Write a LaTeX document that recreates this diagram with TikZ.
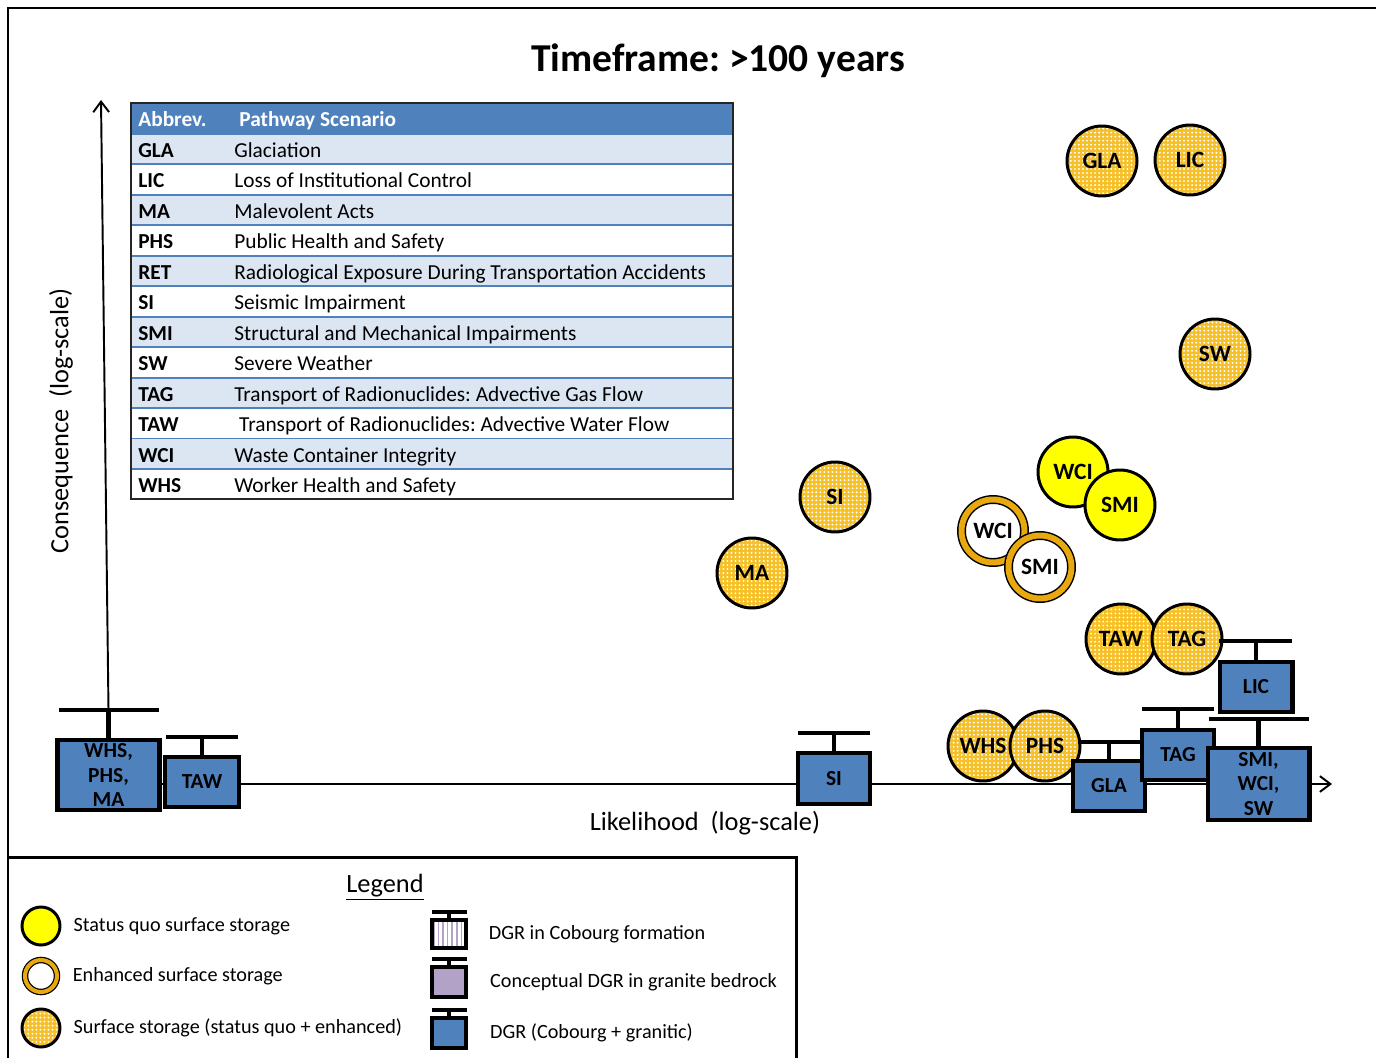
\documentclass[tikz,border=0pt]{standalone}
\usepackage{fontspec}
\setmainfont{Carlito}
\frenchspacing
\usetikzlibrary{positioning,arrows.meta,patterns.meta}

% Colours of the slide
\definecolor{dgrblue}{RGB}{79,129,189}
\definecolor{rowshade}{RGB}{220,230,242}
\definecolor{sqyellow}{RGB}{255,255,0}
\definecolor{mixgold}{RGB}{246,192,40}
\definecolor{ringgold}{RGB}{232,168,16}
\definecolor{granite}{RGB}{179,162,199}

\newcommand\tabfont{\fontsize{12.15}{14}\selectfont}

\tikzset{
  frame/.style={line width=1.7pt},
  axisline/.style={line width=1.1pt, -{Straight Barb[length=6pt,width=9pt]}},
  axtxt/.style={font=\fontsize{15}{18}\selectfont},
  circ/.style={circle, draw, line width=1.7pt, minimum size=1.4cm, inner sep=0pt,
    font=\fontsize{13.3}{15}\selectfont\bfseries},
  quo/.style={circ, fill=sqyellow},
  both/.style={circ, preaction={fill=mixgold}, pattern={Dots[distance=2.3pt,radius=0.6pt]}, pattern color=white},
  enh/.style={circ, fill=white, line width=0.85pt, double=ringgold, double distance=3.4pt, minimum size=1.26cm},
  dgr/.style={draw, line width=2.3pt, fill=dgrblue, inner sep=0pt, align=center,
    font=\fontsize{12.2}{14.2}\selectfont\bfseries},
  post/.style={line width=2.3pt},
  tabtxt/.style={anchor=base west, inner sep=0pt, font=\tabfont},
  rowline/.style={draw=dgrblue, line width=1.1pt},
  legtxt/.style={font=\fontsize{11.5}{14}\selectfont}
}

\begin{document}
\begin{tikzpicture}[x=0.02cm, y=-0.02cm]
    % Page as large as the slide (1 unit = 1 px)
    \useasboundingbox (0,0) rectangle (1376,1058);

    % Outer frame, top and left only
    \draw[frame] (1380,8) -- (8,8) -- (8,1062);

    % Title
    \node[font=\fontsize{22.5}{27}\selectfont\bfseries] (title) at (718,61) {Timeframe: >100 years};

    % Table of abbreviations
    \fill[dgrblue] (131,103) rectangle (733,134);
    \node[tabtxt, font=\tabfont\bfseries, text=white] (hd-ab) at (138,126) {Abbrev.};
    \node[tabtxt, font=\tabfont\bfseries, text=white] (hd-sc) at (239,126) {Pathway Scenario};
    \foreach \ab/\sc [count=\i] in {GLA/Glaciation, LIC/Loss of Institutional Control,
        MA/Malevolent Acts, PHS/Public Health and Safety,
        RET/Radiological Exposure During Transportation Accidents, SI/Seismic Impairment,
        SMI/Structural and Mechanical Impairments, SW/Severe Weather,
        TAG/Transport of Radionuclides: Advective Gas Flow,
        TAW/~Transport of Radionuclides: Advective Water Flow,
        WCI/Waste Container Integrity, WHS/Worker Health and Safety}{
      \pgfmathsetmacro\rowy{134+(\i-1)*30.45}
      \ifodd\i \fill[rowshade] (131,\rowy) rectangle (733,\rowy+30.45); \fi
      \draw[rowline] (131,\rowy) -- (733,\rowy);
      \node[tabtxt, font=\tabfont\bfseries] (ab-\i) at (138,\rowy+23.5) {\ab};
      \node[tabtxt] (sc-\i) at (234,\rowy+23.5) {\sc};
    }
    \draw[line width=1.1pt, draw=black!85] (131,103) rectangle (733,499.4);

    % Axes
    \coordinate (p-whs) at (108.5,710);
    \coordinate (y-top) at (101,100);
    \coordinate (x-start) at (160,784);
    \coordinate (x-end) at (1332,784);
    \draw[axisline] (p-whs) -- (y-top);
    \draw[axisline] (x-start) -- (x-end);
    \node[axtxt, rotate=90] (ylab) at (61,421) {Consequence~~(log-scale)};
    \node[axtxt] (xlab) at (705,823) {Likelihood~~(log-scale)};

    % Surface storage scenarios
    \node[both] (c-gla) at (1102,161) {GLA};
    \node[both] (c-lic) at (1190,160) {LIC};
    \node[both] (c-sw) at (1215,354) {SW};
    \node[both] (c-si) at (835,497) {SI};
    \node[both] (c-ma) at (752,573) {MA};
    \node[quo] (q-wci) at (1073,472) {WCI};
    \node[quo] (q-smi) at (1120,505) {SMI};
    \node[enh] (e-wci) at (993,531) {WCI};
    \node[enh] (e-smi) at (1040,567) {SMI};
    \node[both] (c-taw) at (1121,639) {TAW};
    \node[both] (c-tag) at (1187,639) {TAG};
    \node[both] (c-whs) at (983,746) {WHS};
    \node[both] (c-phs) at (1045,746) {PHS};

    % DGR scenarios: box, post and bar
    \node[dgr, minimum width=2.04cm, minimum height=1.4cm] (b-whs) at (108.5,775) {WHS,\\PHS,\\MA};
    \draw[post] (b-whs.north) -- (p-whs);
    \draw[post] (p-whs) +(-50,0) -- +(50,0);

    \coordinate (p-taw) at (202,737);
    \node[dgr, minimum width=1.48cm, minimum height=1cm] (b-taw) at (202,782) {TAW};
    \draw[post] (b-taw.north) -- (p-taw);
    \draw[post] (p-taw) +(-36,0) -- +(36,0);

    \coordinate (p-si) at (834,733);
    \node[dgr, minimum width=1.44cm, minimum height=1.02cm] (b-si) at (834,778.5) {SI};
    \draw[post] (b-si.north) -- (p-si);
    \draw[post] (p-si) +(-36,0) -- +(36,0);

    \coordinate (p-gla) at (1109,742);
    \node[dgr, minimum width=1.44cm, minimum height=1cm] (b-gla) at (1109,786) {GLA};
    \draw[post] (b-gla.north) -- (p-gla);
    \draw[post] (p-gla) +(-31,0) -- +(34,0);

    \coordinate (p-tag) at (1178,709);
    \node[dgr, minimum width=1.44cm, minimum height=1cm] (b-tag) at (1178,755) {TAG};
    \draw[post] (b-tag.north) -- (p-tag);
    \draw[post] (p-tag) +(-36,0) -- +(36,0);

    \coordinate (p-lic) at (1256,641);
    \node[dgr, minimum width=1.46cm, minimum height=1cm] (b-lic) at (1256,687) {LIC};
    \draw[post] (b-lic.north) -- (p-lic);
    \draw[post] (p-lic) +(-37,0) -- +(36,0);

    \coordinate (p-smw) at (1258.5,719);
    \node[dgr, minimum width=2.04cm, minimum height=1.44cm] (b-smw) at (1258.5,784) {SMI,\\WCI,\\SW};
    \draw[post] (b-smw.north) -- (p-smw);
    \draw[post] (p-smw) +(-50,0) -- +(50,0);

    % Legend
    \draw[frame] (8,857) -- (796,857) -- (796,1062);
    \node[axtxt] (legend) at (385,887) {\underline{Legend}};

    \node[quo, minimum size=0.76cm] (lg-quo) at (41,926) {};
    \node[enh, minimum size=0.64cm, line width=0.7pt, double distance=2.3pt] (lg-enh) at (41,976) {};
    \node[both, minimum size=0.76cm] (lg-both) at (41,1028) {};
    \node[legtxt, right=0.12cm of lg-quo] (tx-quo) {Status quo surface storage};
    \node[legtxt, right=0.18cm of lg-enh] (tx-enh) {Enhanced surface storage};
    \node[legtxt, right=0.12cm of lg-both] (tx-both) {Surface storage (status quo + enhanced)};

    \coordinate (p-cob) at (449,912);
    \node[dgr, minimum width=0.68cm, minimum height=0.56cm, preaction={fill=white},
      pattern={Lines[angle=90,distance=2.6pt,line width=0.9pt]}, pattern color=granite] (lg-cob) at (449,934) {};
    \draw[post] (lg-cob.north) -- (p-cob);
    \draw[post] (p-cob) +(-17,0) -- +(18,0);

    \coordinate (p-gra) at (449,959);
    \node[dgr, minimum width=0.68cm, minimum height=0.6cm, fill=granite] (lg-gra) at (449,982) {};
    \draw[post] (lg-gra.north) -- (p-gra);
    \draw[post] (p-gra) +(-17,0) -- +(18,0);

    \coordinate (p-blu) at (449,1010);
    \node[dgr, minimum width=0.68cm, minimum height=0.6cm] (lg-blu) at (449,1033) {};
    \draw[post] (lg-blu.north) -- (p-blu);
    \draw[post] (p-blu) +(-17,0) -- +(18,0);

    \node[legtxt, right=0.32cm of lg-cob] (tx-cob) {DGR in Cobourg formation};
    \node[legtxt, right=0.32cm of lg-gra] (tx-gra) {Conceptual DGR in granite bedrock};
    \node[legtxt, right=0.32cm of lg-blu] (tx-blu) {DGR (Cobourg + granitic)};

\end{tikzpicture}
\end{document}
